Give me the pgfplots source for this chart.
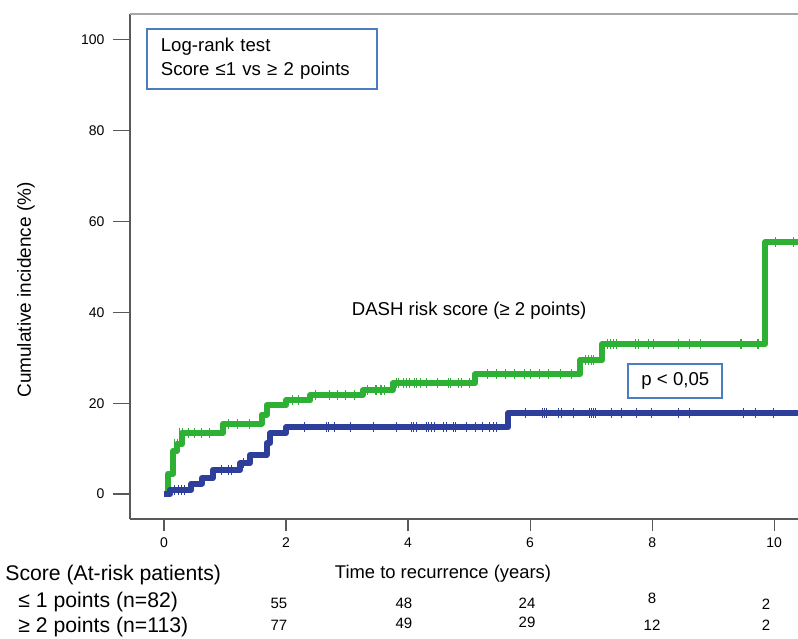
\documentclass[border=0pt]{standalone}
\usepackage{fontspec}
\setmainfont{Liberation Sans}
\usepackage{pgfplots}
\pgfplotsset{compat=1.18}
\definecolor{kmgreen}{RGB}{45,176,52}
\definecolor{kmblue}{RGB}{46,63,155}
\definecolor{boxblue}{RGB}{74,126,192}
\begin{document}
\begin{tikzpicture}
\useasboundingbox (-65pt,-59.5pt) rectangle (334pt,259.5pt);
\begin{axis}[
  at={(0,0)}, anchor=south west,
  scale only axis, width=334pt, height=252.5pt,
  xmin=-0.557, xmax=10.39, ymin=-5.5, ymax=105.7,
  axis x line*=bottom, axis y line*=left,
  axis line style={-, draw=black!65, line width=0.7pt},
  xtick={0,2,...,10}, ytick={0,20,...,100},
  tick align=outside,
  xtick style={draw=black!65, line width=0.6pt, /pgfplots/major tick length=6pt},
  ytick style={draw=black!65, line width=0.6pt, /pgfplots/major tick length=8.5pt},
  tick label style={font=\fontsize{7}{8}\selectfont, /pgf/number format/assume math mode=true},
  xticklabel style={yshift=-1.5pt},
  yticklabel style={xshift=-5pt},
  clip=false,
]
\draw[black!35, line width=0.6pt] (rel axis cs:0,1) -- (rel axis cs:1,1);
% >= 2 points (green)
\addplot[const plot, kmgreen, line width=3pt, line join=round] coordinates {
(0,0) (0.07,4.5) (0.15,9.5) (0.22,11) (0.3,13.5) (0.97,15.5) (1.6,17.5) (1.68,19.5) (2.0,20.6) (2.4,21.8) (3.26,22.9) (3.75,24.4) (5.1,26.4) (6.82,29.5) (7.18,33.0) (9.85,55.4) (10.39,55.4)};
% <= 1 point (blue)
\addplot[const plot, kmblue, line width=3pt, line join=round] coordinates {
(0,0) (0.1,0.9) (0.45,2.3) (0.62,3.5) (0.8,5.3) (1.25,6.8) (1.41,8.6) (1.68,11.2) (1.74,13.4) (2.0,14.7) (5.64,17.8) (10.39,17.8)};
% censoring marks green
\addplot[only marks, mark=|, mark size=2.5pt, kmgreen, mark options={line width=0.5pt}] coordinates {
(0.18,11) (0.22,11) (0.26,13.5) (0.3,13.5) (0.4,13.5) (0.5,13.5) (0.62,13.5) (0.75,13.5)
(1.05,15.5) (1.2,15.5) (1.4,15.5) (2.1,20.6) (2.2,20.6) (2.48,21.8) (2.72,21.8) (2.84,21.8) (2.97,21.8) (3.13,21.8)
(3.34,22.9) (3.46,22.9) (3.49,22.9) (3.54,22.9) (3.57,22.9) (3.62,22.9)
(3.81,24.4) (3.84,24.4) (3.92,24.4) (3.98,24.4) (4.03,24.4) (4.11,24.4) (4.14,24.4) (4.2,24.4) (4.31,24.4) (4.49,24.4) (4.66,24.4) (4.69,24.4) (4.82,24.4) (4.88,24.4) (5.0,24.4)
(5.3,26.4) (5.45,26.4) (5.6,26.4) (5.75,26.4) (5.9,26.4) (6.0,26.4) (6.15,26.4) (6.3,26.4) (6.5,26.4) (6.68,26.4)
(6.9,29.5) (6.95,29.5) (7.01,29.5) (7.04,29.5)
(7.26,33) (7.31,33) (7.37,33) (7.42,33) (7.72,33) (7.77,33) (7.94,33) (8.02,33) (8.43,33) (8.62,33) (8.79,33) (9.44,33) (9.47,33) (9.72,33) (9.74,33)
(10.02,55.4) (10.31,55.4)};
% censoring marks blue
\addplot[only marks, mark=|, mark size=2.5pt, kmblue, mark options={line width=0.5pt}] coordinates {
(0.17,0.9) (0.23,0.9) (0.28,0.9) (0.34,0.9) (0.95,5.3) (1.05,5.3) (1.1,5.3) (1.3,6.8)
(2.31,14.7) (2.67,14.7) (2.7,14.7) (2.8,14.7) (3.05,14.7)
(3.44,14.7) (3.81,14.7) (4.06,14.7) (4.09,14.7) (4.13,14.7) (4.3,14.7) (4.33,14.7) (4.39,14.7) (4.44,14.7) (4.58,14.7) (4.63,14.7) (4.75,14.7) (4.77,14.7) (4.96,14.7) (5.1,14.7) (5.22,14.7) (5.33,14.7) (5.4,14.7) (5.45,14.7)
(5.92,17.8) (6.21,17.8) (6.23,17.8) (6.27,17.8) (6.46,17.8) (6.52,17.8) (6.71,17.8) (6.98,17.8) (7.01,17.8) (7.04,17.8) (7.07,17.8) (7.34,17.8) (7.5,17.8) (7.75,17.8) (7.99,17.8) (8.43,17.8) (8.62,17.8) (9.49,17.8) (9.69,17.8) (9.99,17.8)};
\node[font=\fontsize{9.3}{11}\selectfont] at (axis cs:5.0,40.3) {DASH risk score (≥ 2 points)};
\node[draw=boxblue, line width=0.9pt, fill=white, minimum width=47pt, minimum height=17pt, inner sep=0pt, font=\fontsize{9.3}{11}\selectfont] at (axis cs:8.38,24.9) {p < 0,05};
\node[draw=boxblue, line width=0.9pt, fill=white, anchor=north west, minimum width=115pt, minimum height=30pt, text width=101pt, inner xsep=7pt, inner ysep=0pt, align=left, font=\fontsize{9.3}{12}\selectfont] at (axis cs:-0.295,102.6) {Log-rank test\\Score ≤1 vs ≥ 2 points};
\end{axis}
% y label
\node[rotate=90, font=\fontsize{9.5}{11}\selectfont] at (-52pt,114.5pt) {Cumulative incidence (\%)};
% x label and risk table
\node[font=\fontsize{9.2}{11}\selectfont] at (156.5pt,-27.5pt) {Time to recurrence (years)};
\node[anchor=west, inner sep=0pt, font=\fontsize{10.6}{12}\selectfont] at (-62.5pt,-28pt) {Score (At-risk patients)};
\node[anchor=west, inner sep=0pt, font=\fontsize{10.6}{12}\selectfont] at (-56pt,-41.5pt) {≤ 1 points (n=82)};
\node[anchor=west, inner sep=0pt, font=\fontsize{10.6}{12}\selectfont] at (-56pt,-54pt) {≥ 2 points (n=113)};
\begin{scope}[every node/.style={font=\fontsize{7.5}{9}\selectfont}]
\node at (74.5pt,-42pt) {55};
\node at (137pt,-42pt) {48};
\node at (198.5pt,-42pt) {24};
\node at (261pt,-39.5pt) {8};
\node at (318pt,-42.5pt) {2};
\node at (74.5pt,-53pt) {77};
\node at (137pt,-52pt) {49};
\node at (198.5pt,-51.5pt) {29};
\node at (261pt,-53pt) {12};
\node at (318pt,-53pt) {2};
\end{scope}
\end{tikzpicture}
\end{document}
